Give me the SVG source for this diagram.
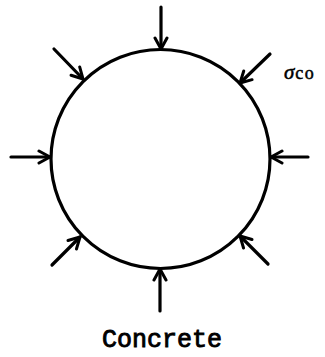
<svg xmlns="http://www.w3.org/2000/svg" width="325" height="357" viewBox="0 0 325 357">
<style>
.ln{stroke:#000;stroke-width:3.2;fill:none;stroke-linecap:round;stroke-linejoin:round}
.ar{stroke:#000;stroke-width:3.2;fill:none;stroke-linecap:round;marker-end:url(#head)}
.lab{font-family:"Liberation Serif","DejaVu Serif",serif;fill:#000;stroke:#000;stroke-width:0.5}
.cap{font-family:"Liberation Mono","DejaVu Sans Mono",monospace;font-size:25px;fill:#000;stroke:#000;stroke-width:0.9}
</style>
<defs>
<marker id="head" markerUnits="userSpaceOnUse" markerWidth="20" markerHeight="20" refX="13" refY="8" orient="auto" viewBox="0 0 20 20">
<path d="M2,2 L13,8 L2,14" stroke="#000" stroke-width="3" fill="none" stroke-linecap="round" stroke-linejoin="round"/>
</marker>
</defs>
<g id="concrete">
<circle class="ln" cx="160.5" cy="159" r="109.5"/>
</g>
<g id="connectors">
<line class="ar" x1="161" y1="7" x2="161" y2="49"/>
<line class="ar" x1="160" y1="311" x2="160" y2="269"/>
<line class="ar" x1="11" y1="157" x2="50" y2="157"/>
<line class="ar" x1="308" y1="157" x2="271" y2="157"/>
<line class="ar" x1="54" y1="49" x2="83" y2="79"/>
<line class="ar" x1="270" y1="54" x2="240" y2="83"/>
<line class="ar" x1="52" y1="265" x2="80" y2="237"/>
<line class="ar" x1="268" y1="264" x2="240" y2="236"/>
</g>
<g id="labels">
<text class="lab" x="284" y="79"><tspan font-style="italic" font-size="21">σ</tspan><tspan font-size="18" letter-spacing="1.5" dx="1">co</tspan></text>
<text class="cap" x="102" y="347">Concrete</text>
</g>
</svg>
